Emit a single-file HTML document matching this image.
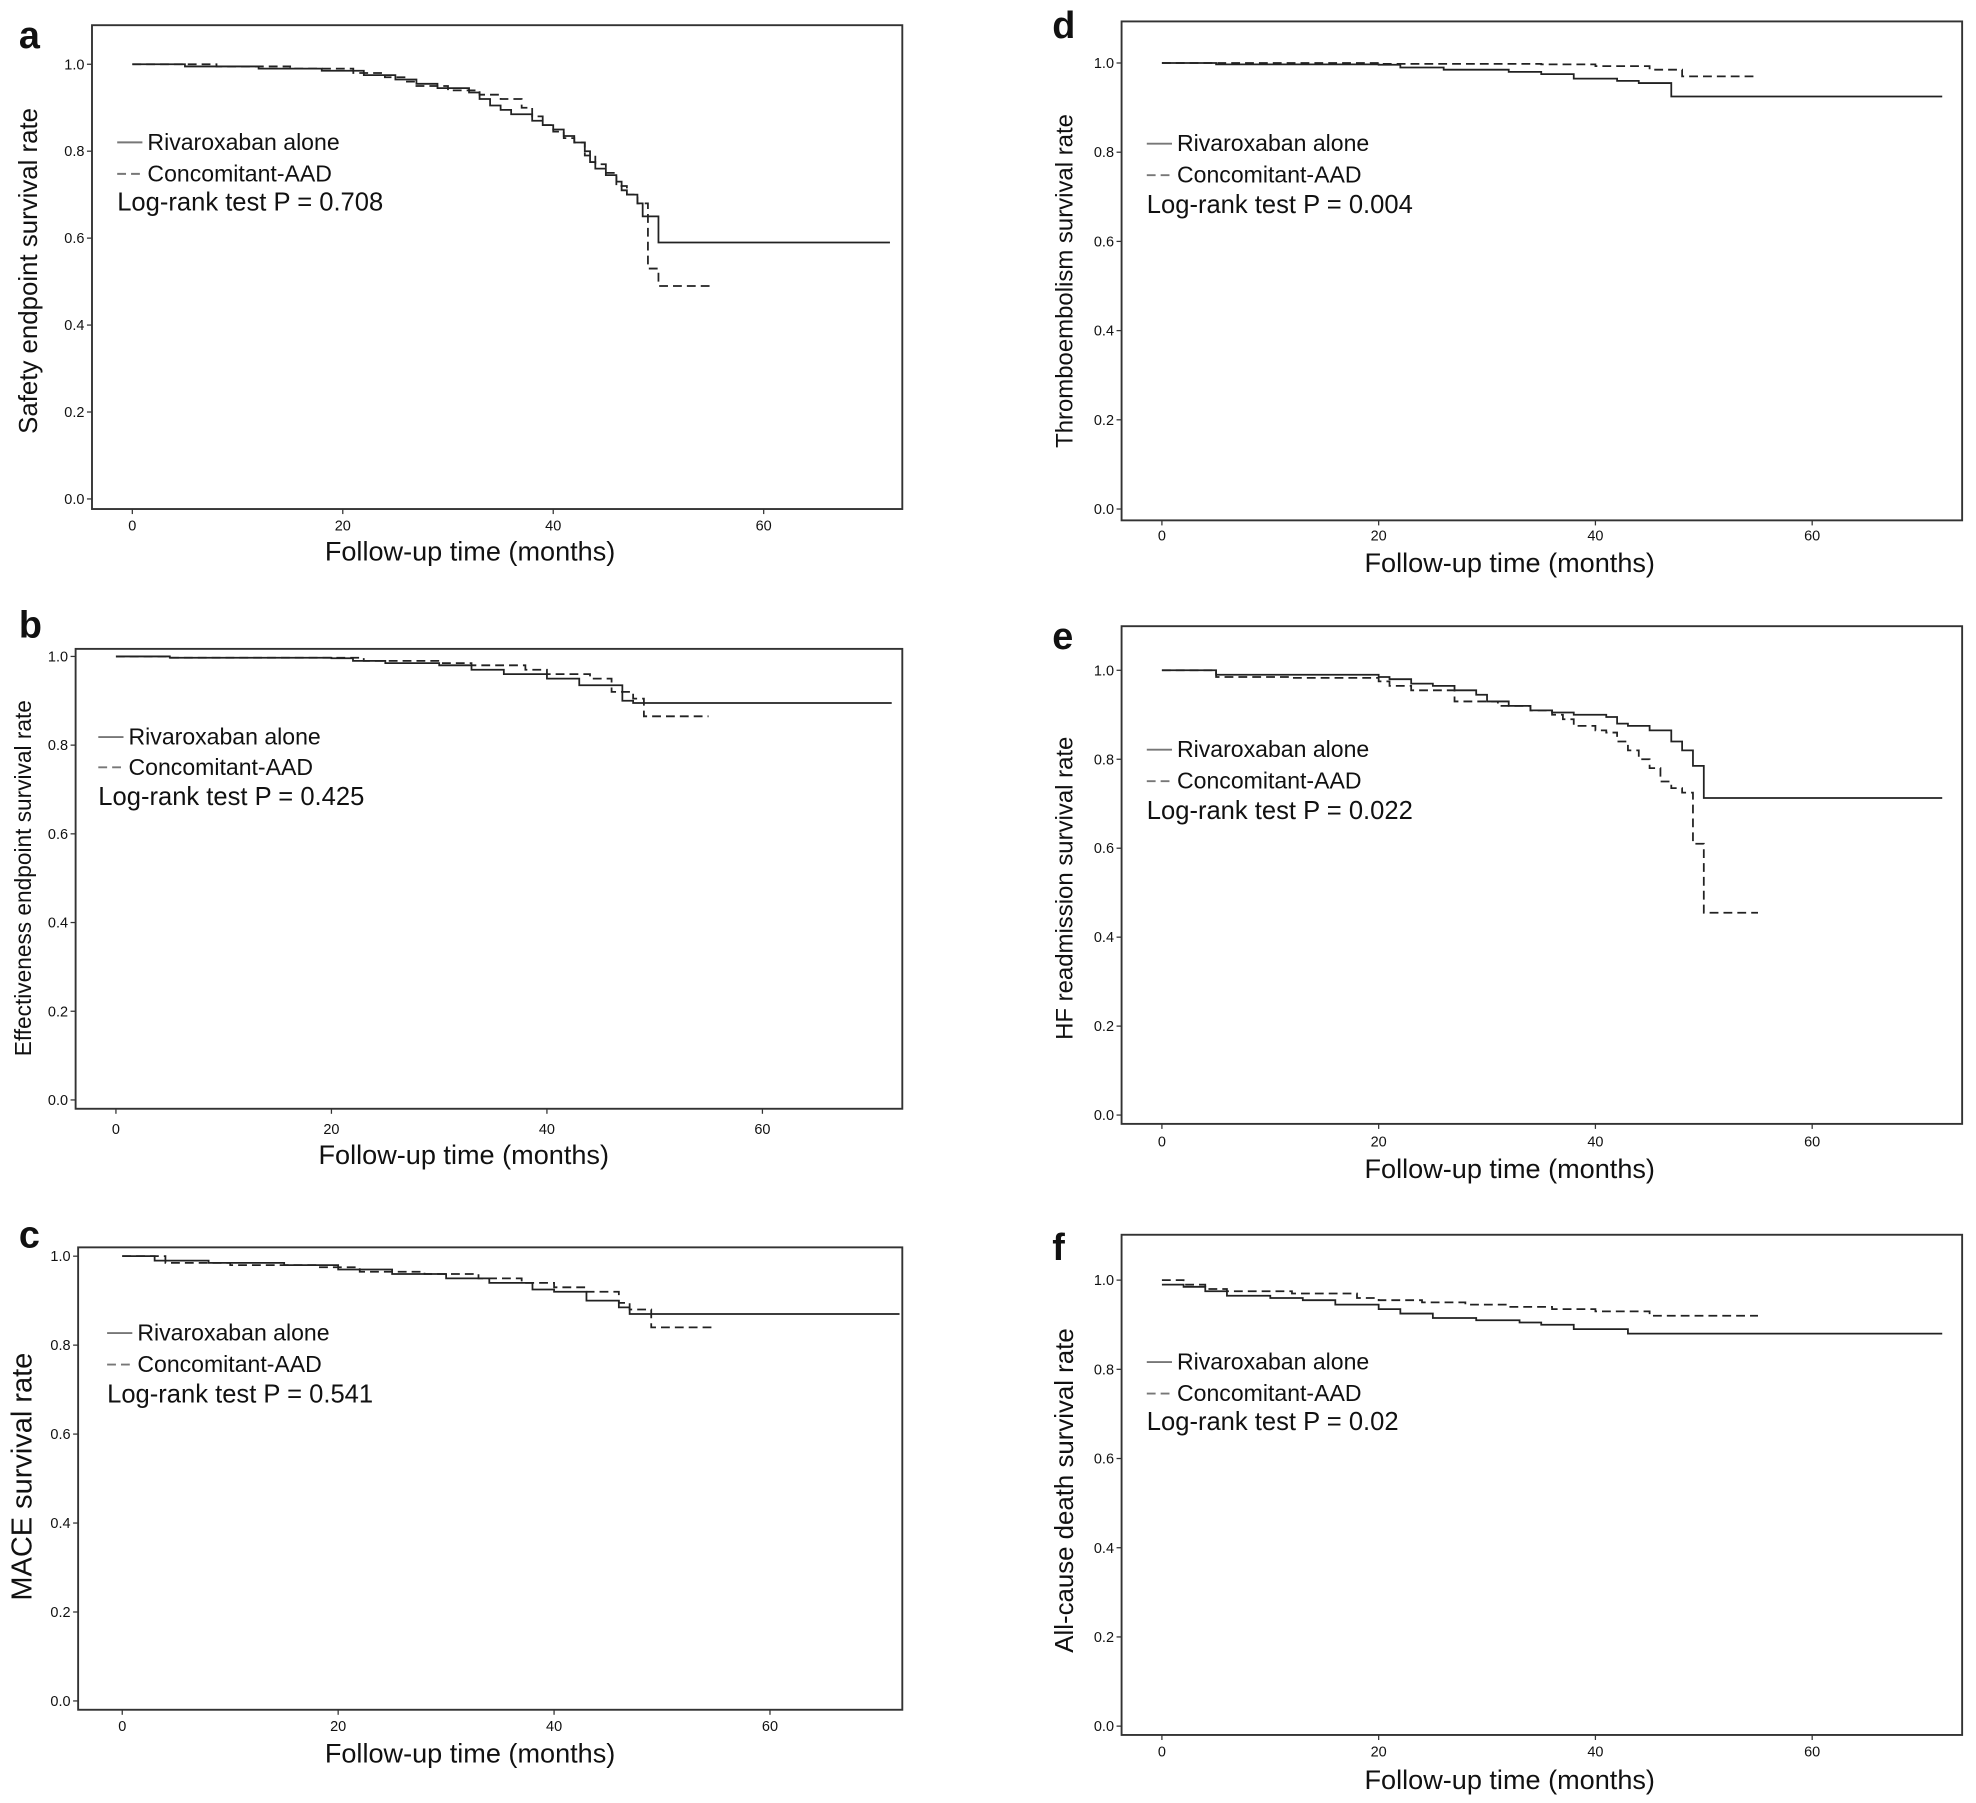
<!DOCTYPE html>
<html><head><meta charset="utf-8"><style>
html,body{margin:0;padding:0;background:#fff}
svg{display:block}
text{font-family:"Liberation Sans",Arial,sans-serif;fill:#111}
</style></head><body>
<svg id="s" width="1976" height="1803" viewBox="0 0 1568 1431" preserveAspectRatio="none" xmlns="http://www.w3.org/2000/svg"></svg>
<script>
var P=[
{L:'a',lx:15,ly:38,bx:[73,20,716,404],y1:51,y0:396,x0:105,x60:606,tl:417,xl:438,xc:373,yl:'Safety endpoint survival rate',ylx:24,ylc:215,lg:[113,138,160],lgx:93,p:'0.708',ys:20.5,
 s:[[0,1],[5,0.995],[12,0.99],[18,0.985],[22,0.975],[25,0.965],[27,0.955],[29,0.945],[32,0.935],[33,0.92],[34,0.905],[35,0.895],[36,0.885],[38,0.87],[39,0.86],[40,0.85],[41,0.835],[42,0.82],[43,0.8],[43.5,0.775],[44,0.76],[45,0.745],[46,0.73],[46.5,0.71],[47,0.7],[48,0.68],[48.5,0.65],[50,0.59],[72,0.59]],
 d:[[0,1],[8,0.995],[15,0.99],[21,0.98],[24,0.97],[26,0.96],[27,0.95],[30,0.94],[33,0.93],[35,0.92],[37,0.9],[38,0.88],[39,0.86],[40,0.845],[41,0.83],[42,0.82],[43,0.79],[44,0.77],[45,0.75],[46,0.72],[47,0.7],[48,0.68],[49,0.53],[50,0.49],[55,0.49]]},
{L:'b',lx:15,ly:506,bx:[60,515,716,880],y1:521,y0:873,x0:92,x60:605,tl:896,xl:917,xc:368,yl:'Effectiveness endpoint survival rate',ylx:20,ylc:697,lg:[585,609,632],lgx:78,p:'0.425',ys:18,
 s:[[0,1],[5,0.997],[20,0.996],[22,0.99],[25,0.985],[30,0.98],[33,0.97],[36,0.96],[40,0.95],[43,0.935],[47,0.9],[48,0.895],[72,0.895]],
 d:[[0,1],[5,0.997],[20,0.997],[23,0.99],[30,0.985],[33,0.98],[38,0.97],[40,0.96],[44,0.95],[46,0.92],[48,0.905],[49,0.865],[55,0.865]]},
{L:'c',lx:15,ly:990,bx:[62,990,716,1357],y1:997,y0:1350,x0:97,x60:611,tl:1370,xl:1392,xc:373,yl:'MACE survival rate',ylx:19,ylc:1172,lg:[1058,1083,1106],lgx:85,p:'0.541',ys:23,
 s:[[0,1],[3,0.99],[8,0.985],[15,0.98],[20,0.97],[25,0.96],[30,0.95],[34,0.94],[38,0.925],[40,0.92],[43,0.9],[46,0.885],[47,0.87],[72,0.87]],
 d:[[0,1],[4,0.985],[10,0.98],[18,0.975],[22,0.965],[28,0.96],[33,0.95],[37,0.94],[40,0.93],[43,0.92],[46,0.895],[47,0.88],[49,0.84],[55,0.84]]},
{L:'d',lx:835,ly:30,bx:[890,17,1557,413],y1:50,y0:404,x0:922,x60:1438,tl:425,xl:447,xc:1198,yl:'Thromboembolism survival rate',ylx:846,ylc:223,lg:[114,139,162],lgx:910,p:'0.004',ys:19,
 s:[[0,1],[5,0.997],[20,0.996],[22,0.99],[26,0.985],[32,0.98],[35,0.975],[38,0.965],[42,0.96],[44,0.955],[47,0.925],[72,0.925]],
 d:[[0,1],[20,0.998],[35,0.997],[40,0.993],[45,0.985],[48,0.97],[55,0.97]]},
{L:'e',lx:835,ly:515,bx:[890,497,1557,892],y1:532,y0:885,x0:922,x60:1438,tl:906,xl:928,xc:1198,yl:'HF readmission survival rate',ylx:846,ylc:705,lg:[595,620,643],lgx:910,p:'0.022',ys:19,
 s:[[0,1],[5,0.99],[20,0.985],[21,0.98],[23,0.97],[25,0.965],[27,0.955],[29,0.945],[30,0.93],[32,0.92],[34,0.91],[36,0.905],[38,0.9],[41,0.895],[42,0.88],[43,0.875],[45,0.865],[47,0.84],[48,0.82],[49,0.785],[50,0.713],[72,0.713]],
 d:[[0,1],[5,0.985],[12,0.983],[20,0.975],[21,0.965],[23,0.955],[27,0.93],[31,0.92],[34,0.91],[36,0.9],[37,0.89],[38,0.875],[40,0.865],[41,0.86],[42,0.84],[43,0.82],[44,0.8],[45,0.78],[46,0.75],[47,0.735],[48,0.725],[49,0.61],[50,0.455],[55,0.455]]},
{L:'f',lx:835,ly:1000,bx:[890,980,1557,1377],y1:1016,y0:1370,x0:922,x60:1438,tl:1390,xl:1413,xc:1198,yl:'All-cause death survival rate',ylx:846,ylc:1183,lg:[1081,1106,1128],lgx:910,p:'0.02',ys:20.5,
 s:[[0,0.99],[2,0.985],[4,0.975],[6,0.965],[10,0.96],[13,0.955],[16,0.945],[20,0.935],[22,0.925],[25,0.915],[29,0.91],[33,0.905],[35,0.9],[38,0.89],[43,0.88],[72,0.88]],
 d:[[0,1],[2,0.99],[4,0.98],[6,0.975],[12,0.97],[18,0.96],[20,0.955],[24,0.95],[28,0.945],[32,0.94],[36,0.935],[40,0.93],[45,0.92],[55,0.92]]}
];
var o='';
P.forEach(function(p){
 var b=p.bx, X=function(m){return p.x0+(p.x60-p.x0)*m/60}, Y=function(v){return p.y0+(p.y1-p.y0)*v};
 o+='<text x="'+p.lx+'" y="'+p.ly+'" font-size="30" font-weight="bold">'+p.L+'</text>';
 o+='<rect x="'+b[0]+'" y="'+b[1]+'" width="'+(b[2]-b[0])+'" height="'+(b[3]-b[1])+'" fill="none" stroke="#333" stroke-width="1.5"/>';
 for(var i=0;i<=5;i++){var v=i/5,y=Y(v);o+='<line x1="'+(b[0]-4)+'" x2="'+b[0]+'" y1="'+y+'" y2="'+y+'" stroke="#333"/>';
  o+='<text x="'+(b[0]-6)+'" y="'+(y+4)+'" font-size="11.5" text-anchor="end">'+v.toFixed(1)+'</text>';}
 [0,20,40,60].forEach(function(m){var x=X(m);o+='<line x1="'+x+'" x2="'+x+'" y1="'+b[3]+'" y2="'+(b[3]+4)+'" stroke="#333"/>';
  o+='<text x="'+x+'" y="'+(p.tl+4)+'" font-size="11.5" text-anchor="middle">'+m+'</text>';});
 o+='<text x="'+p.xc+'" y="'+(p.xl+7)+'" font-size="21.5" text-anchor="middle">Follow-up time (months)</text>';
 o+='<text transform="translate('+p.ylx+','+p.ylc+') rotate(-90)" font-size="'+p.ys+'" text-anchor="middle" dominant-baseline="middle">'+p.yl+'</text>';
 function path(a){var d='M'+X(a[0][0])+','+Y(a[0][1]);for(var i=1;i<a.length;i++){d+='H'+X(a[i][0])+'V'+Y(a[i][1]);}return d;}
 o+='<path d="'+path(p.s)+'" fill="none" stroke="#222" stroke-width="1.4"/>';
 o+='<path d="'+path(p.d)+'" fill="none" stroke="#222" stroke-width="1.4" stroke-dasharray="7,4"/>';
 var g=p.lgx;
 o+='<line x1="'+g+'" x2="'+(g+20)+'" y1="'+p.lg[0]+'" y2="'+p.lg[0]+'" stroke="#777" stroke-width="1.5"/>';
 o+='<text x="'+(g+24)+'" y="'+(p.lg[0]+6)+'" font-size="18.3">Rivaroxaban alone</text>';
 o+='<line x1="'+g+'" x2="'+(g+20)+'" y1="'+p.lg[1]+'" y2="'+p.lg[1]+'" stroke="#777" stroke-width="1.5" stroke-dasharray="7,4"/>';
 o+='<text x="'+(g+24)+'" y="'+(p.lg[1]+6)+'" font-size="18.3">Concomitant-AAD</text>';
 o+='<text x="'+g+'" y="'+(p.lg[2]+7)+'" font-size="20.3">Log-rank test P = '+p.p+'</text>';
});
document.getElementById('s').innerHTML=o;
</script>
</body></html>
